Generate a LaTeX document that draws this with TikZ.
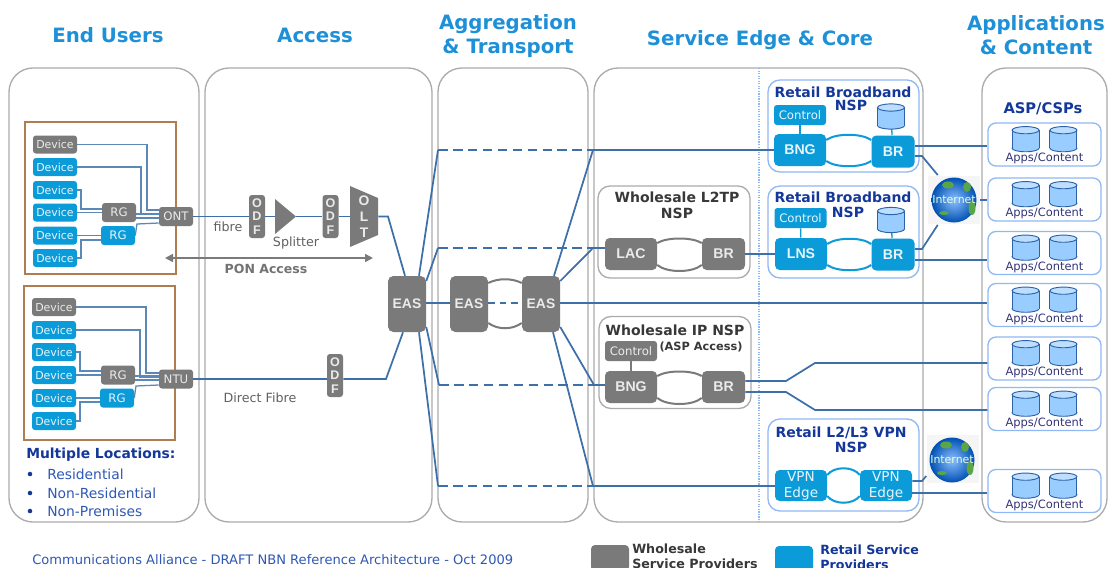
\documentclass[tikz,border=0pt]{standalone}
\usepackage{fontspec}
\setmainfont{DejaVu Sans}
\newfontfamily\arl{Liberation Sans}
\usetikzlibrary{arrows.meta,calc,backgrounds}
\pgfdeclarelayer{back}\pgfdeclarelayer{mid}\pgfsetlayers{back,mid,main}
\definecolor{gry}{HTML}{7A7A7A}
\definecolor{blu}{HTML}{0A9BD8}
\definecolor{ttl}{HTML}{1E90D8}
\definecolor{navy}{HTML}{14389A}
\definecolor{txtb}{HTML}{2F58B4}
\definecolor{fib}{HTML}{3D6FA8}
\definecolor{wir}{HTML}{5C88B8}
\definecolor{edge}{HTML}{ABABAB}
\definecolor{brn}{HTML}{B07D4E}
\definecolor{lbl}{HTML}{8FB8F5}
\definecolor{cylf}{HTML}{99CCFF}
\definecolor{cyle}{HTML}{2B62A8}
\definecolor{grn}{HTML}{5BA548}
\def\p{0.75pt}
\newcommand\fs[2]{\fontsize{#1}{#2}\selectfont}
% named database drum, centred at the given position
\newcommand\drum[2]{%
  \begin{scope}[shift={#2}]
  \node[inner sep=0,minimum width=27*\p,minimum height=25*\p] (#1) at (0,0) {};
  \fill[cylf,draw=cyle,line width=0.7pt] (0,9) ellipse (13.5 and 3.6);
  \fill[cylf] (-13.5,-9) rectangle (13.5,9);
  \draw[cyle,line width=0.7pt] (-13.5,-9) -- (-13.5,9) (13.5,-9) -- (13.5,9);
  \fill[cylf!65!white,draw=cyle,line width=0.7pt] (0,-9) ellipse (13.5 and 3.6);
  \end{scope}}
\tikzset{
  x=0.75pt,y=-0.75pt,
  panel/.style={draw=edge,line width=1pt,fill=white,rounded corners=18pt,inner sep=0},
  grp/.style={draw=edge,line width=1pt,fill=white,rounded corners=9pt,inner sep=0,minimum width=152*\p,minimum height=92*\p},
  rgrp/.style={draw=lbl,line width=1pt,fill=white,rounded corners=9pt,inner sep=0,minimum width=151*\p,minimum height=92*\p},
  site/.style={draw=brn,line width=1.3pt,fill=white,inner sep=0,minimum width=151*\p},
  gbox/.style={fill=gry,text=white!85!gry,rounded corners=2.2pt,inner sep=0},
  bbox/.style={fill=blu,text=white!90!blu,rounded corners=2.2pt,inner sep=0},
  dev/.style={minimum width=44*\p,minimum height=18*\p,font=\fs{8.2}{10}},
  rg/.style={minimum width=34*\p,minimum height=19*\p,font=\fs{8.8}{10}},
  odf/.style={gbox,minimum width=16*\p,minimum height=43*\p,font=\arl\bfseries\fs{9.4}{10},align=center},
  eas/.style={gbox,rounded corners=4pt,minimum width=38*\p,minimum height=56*\p,font=\arl\bfseries\fs{10.4}{12}},
  rt/.style={rounded corners=3.5pt,minimum width=52*\p,minimum height=32*\p,font=\arl\bfseries\fs{10.6}{12}},
  br/.style={rounded corners=3.5pt,minimum width=43*\p,minimum height=32*\p,font=\arl\bfseries\fs{10.6}{12}},
  ctl/.style={minimum width=52*\p,minimum height=20*\p,font=\fs{8.8}{10}},
  vpn/.style={bbox,rounded corners=3.5pt,minimum width=52*\p,minimum height=31*\p,font=\fs{10.2}{14},align=center},
  head/.style={text=ttl,font=\bfseries\fs{14.8}{18},align=center,inner sep=0},
  dark/.style={text=black!78,font=\bfseries\fs{10.5}{12},align=center,inner sep=0},
  rtitle/.style={text=navy,font=\bfseries\fs{10.5}{11.5},align=center,inner sep=0},
  plain/.style={text=black!62,font=\fs{9.5}{11},inner sep=0},
  loc/.style={text=txtb,font=\fs{10.4}{12},anchor=west,inner sep=0},
  dot/.style={circle,fill=navy,inner sep=0,minimum size=3.4pt},
  fibre/.style={draw=fib,line width=1.3pt},
  fibd/.style={fibre,dash pattern=on 7.2pt off 4pt},
  wire/.style={draw=wir,line width=0.95pt},
  ringg/.style={draw=gry,line width=1.5pt},
  ringb/.style={draw=blu,line width=1.5pt},
  apps/.style={draw=lbl,line width=1pt,fill=white,rounded corners=6pt,inner sep=0,minimum width=113*\p,minimum height=43*\p},
  appt/.style={text=black!55!blue!60!gray,font=\fs{8.6}{10},inner sep=0},
  gbg/.style={fill=black!4,inner sep=0,minimum width=52*\p,minimum height=48*\p},
  globe/.style={circle,inner color=cyan!45!blue!45!white,outer color=blue!55!cyan!70!black,inner sep=0,minimum size=45*\p},
  gtext/.style={text=white!90!green,font=\fs{8.2}{10},inner sep=0},
}
\begin{document}
\begin{tikzpicture}
\useasboundingbox (0,0) rectangle (1108,568);
\begin{pgfonlayer}{back}
\fill[white] (0,0) rectangle (1108,568);
\node[panel,minimum width=190*\p,minimum height=454*\p] (pUsers) at (104,295) {};
\node[panel,minimum width=227*\p,minimum height=454*\p] (pAccess) at (318.5,295) {};
\node[panel,minimum width=150*\p,minimum height=454*\p] (pAgg) at (513,295) {};
\node[panel,minimum width=329*\p,minimum height=454*\p] (pCore) at (758.5,295) {};
\node[panel,minimum width=125*\p,minimum height=454*\p] (pApps) at (1044.5,295) {};
\coordinate (dtop) at (759,68); \coordinate (dbot) at (759,522);
\draw[draw=lbl,line width=0.9pt,densely dotted] (dtop) -- (dbot);
\node[site,minimum height=152*\p] (s1) at (100.5,198) {};
\node[site,minimum height=154*\p] (s2) at (99.5,363) {};
\node[grp] (wL2) at (674,232) {};
\node[grp] (wIP) at (675,362.5) {};
\node[rgrp] (r1) at (843.5,126) {};
\node[rgrp] (r2) at (843.5,232) {};
\node[rgrp] (r3) at (843.5,465) {};
\end{pgfonlayer}

% headings
\node[head] (hUsers) at (108,35) {End Users};
\node[head] (hAccess) at (315,35) {Access};
\node[head] (hAgg) at (508,36) {Aggregation\\\& Transport};
\node[head] (hCore) at (760,40.5) {Service Edge \& Core};
\node[head] (hApps) at (1036,35.5) {Applications\\\& Content};

% first site
\node[gbox,dev] (d1) at (55,144.5) {Device};
\node[bbox,dev] (d2) at (55,167) {Device};
\node[bbox,dev] (d3) at (55,190) {Device};
\node[bbox,dev] (d4) at (55,212.5) {Device};
\node[bbox,dev] (d5) at (55,235.5) {Device};
\node[bbox,dev] (d6) at (55,258) {Device};
\node[gbox,rg] (rg1) at (119,212.5) {RG};
\node[bbox,rg] (rg2) at (118,235.5) {RG};
\node[gbox,rg,minimum width=34*\p] (ont) at (176,216.5) {ONT};
% second site
\node[gbox,dev] (e1) at (54,307) {Device};
\node[bbox,dev] (e2) at (54,330) {Device};
\node[bbox,dev] (e3) at (54,352) {Device};
\node[bbox,dev] (e4) at (54,375) {Device};
\node[bbox,dev] (e5) at (54,398) {Device};
\node[bbox,dev] (e6) at (54,421) {Device};
\node[gbox,rg] (rg3) at (118,375) {RG};
\node[bbox,rg] (rg4) at (117,398) {RG};
\node[gbox,rg] (ntu) at (176,379) {NTU};

% access
\node[odf] (odf1) at (257,216.5) {O\\D\\F};
\fill[gry] (275,199) -- (296,216.5) -- (275,234) -- cycle;
\node[inner sep=0,minimum width=21*\p,minimum height=35*\p] (split) at (285.5,216.5) {};
\node[odf] (odf2) at (330.5,216.5) {O\\D\\F};
\fill[gry] (350,186) -- (378,198) -- (378,235) -- (350,247) -- cycle;
\node[inner sep=0,minimum width=28*\p,minimum height=61*\p,text=white!85!gry,font=\arl\bfseries\fs{10.4}{11.8},align=center] (olt) at (364,216.5) {O\\L\\T};
\node[odf] (odf3) at (335,375.5) {O\\D\\F};
\node[plain] (lFibre) at (228,227) {fibre};
\node[plain] (lSplit) at (296,243) {Splitter};
\node[text=black!55,font=\bfseries\fs{9.4}{11},inner sep=0] (lPon) at (266,269) {PON Access};
\node[plain] (lDirect) at (260,398) {Direct Fibre};
\coordinate (ponL) at (165,258); \coordinate (ponR) at (373,258);
\draw[draw=gry,line width=1.2pt,{Triangle[length=6pt,width=6pt]}-{Triangle[length=6pt,width=6pt]}] (ponL) -- (ponR);

% locations
\node[text=navy,font=\bfseries\fs{10.4}{12},anchor=west,inner sep=0] (lMulti) at (26,455) {Multiple Locations:};
\node[dot] (b1) at (30,474) {}; \node[loc] (t1) at (47,474) {Residential};
\node[dot] (b2) at (30,493) {}; \node[loc] (t2) at (47,493) {Non-Residential};
\node[dot] (b3) at (30,511) {}; \node[loc] (t3) at (47,511) {Non-Premises};

% EAS
\node[eas] (eas1) at (407,304) {EAS};
\node[eas] (eas2) at (469,304) {EAS};
\node[eas] (eas3) at (541,304) {EAS};

% wholesale
\node[dark] (tL2) at (677,205) {Wholesale L2TP\\NSP};
\node[gbox,rt] (lac) at (631,254) {LAC};
\node[gbox,br] (brL) at (723.5,254) {BR};
\node[dark] (tIP) at (675,330) {Wholesale IP NSP};
\node[text=black!78,font=\bfseries\fs{8.5}{10},inner sep=0] (tASP) at (701,347) {(ASP Access)};
\node[gbox,ctl] (ctlW) at (631,351) {Control};
\node[gbox,rt] (bngW) at (631,387) {BNG};
\node[gbox,br] (brW) at (723.5,387) {BR};

% retail
\node[rtitle,font=\bfseries\fs{10.5}{9.8}] (tR1) at (843,98.5) {Retail Broadband\\\kern12pt NSP};
\node[bbox,ctl] (ctl1) at (800,115) {Control};
\node[bbox,rt] (bng1) at (800,150) {BNG};
\node[bbox,br] (br1) at (893,151.5) {BR};
\drum{cy1}{(891,116.5)}
\node[rtitle] (tR2) at (843,205) {Retail Broadband\\\kern7.5pt NSP};
\node[bbox,ctl] (ctl2) at (800.5,218) {Control};
\node[bbox,rt] (lns) at (801,254) {LNS};
\node[bbox,br] (br2) at (893,254.5) {BR};
\drum{cy2}{(891,220)}
\node[rtitle] (tR3) at (841,440) {Retail L2/L3 VPN\\\kern15pt NSP};
\node[vpn] (vpn1) at (801,485.5) {VPN\\[-2pt]Edge};
\node[vpn] (vpn2) at (886,485.5) {VPN\\[-2pt]Edge};

% internet
\node[gbg] (inetA) at (954,200) {};
\node[globe] (g1) at (954,200) {};
\fill[grn] (948,185) ellipse (6 and 3.5) (967,187) ellipse (4 and 5) (972,208) ellipse (3.5 and 7) (944,213) ellipse (5 and 2);
\node[gtext] (gt1) at (954,200) {Internet};
\node[gbg] (inetB) at (952.5,459) {};
\node[globe] (g2) at (952,460) {};
\fill[grn] (946,445) ellipse (6 and 3.5) (965,447) ellipse (4 and 5) (970,468) ellipse (3.5 and 7) (942,473) ellipse (5 and 2);
\node[gtext] (gt2) at (952,460) {Internet};

% applications
\node[text=navy,font=\bfseries\fs{11}{13},inner sep=0] (tAsp) at (1043,108.5) {ASP/CSPs};
\foreach \n/\yc in {1/144.5,2/199.5,3/253,4/305,5/358.5,6/409,7/491}{
  \begin{pgfonlayer}{back}
  \node[apps] (a\n) at (1044.5,\yc) {};
  \end{pgfonlayer}
  \drum{a\n l}{([xshift=-14.2pt,yshift=4pt]a\n.center)}
  \drum{a\n r}{([xshift=14.2pt,yshift=4pt]a\n.center)}
  \node[appt] (a\n t) at ([yshift=6pt]a\n.south) {Apps/Content};
}

% footer and legend
\node[text=txtb,font=\fs{9.8}{12},anchor=west,inner sep=0] (foot) at (32,560) {Communications Alliance - DRAFT NBN Reference Architecture - Oct 2009};
\node[gbox,rounded corners=3pt,minimum width=38*\p,minimum height=26*\p] (legG) at (610,558) {};
\node[text=black!78,font=\bfseries\fs{9.5}{11.2},align=left,anchor=north west,inner sep=0] (legGt) at (632,544) {Wholesale\\Service Providers};
\node[bbox,rounded corners=3pt,minimum width=38*\p,minimum height=26*\p] (legB) at (794,559) {};
\node[text=navy,font=\bfseries\fs{9.5}{11.2},align=left,anchor=north west,inner sep=0] (legBt) at (820,545) {Retail Service\\Providers};

% connectors
\begin{pgfonlayer}{mid}
\coordinate (c1a) at (438,150); \coordinate (c1b) at (593,150);
\coordinate (c2a) at (438,248); \coordinate (c2b) at (593,248);
\coordinate (c3a) at (439,385); \coordinate (c3b) at (594,385);
\coordinate (c4a) at (438,486); \coordinate (c4b) at (593,486);
% site 1 wiring
\draw[wire] (d1.east) -- (147,144.5) -- (147,210) -- (ont.west |- 0,210);
\draw[wire] (d2.east) -- (141,167) -- (141,214) -- (ont.west |- 0,214);
\draw[wire] (d3.east) -- (81,190) -- (81,209) -- (rg1.west |- 0,209);
\draw[wire] (d4.east) -- (rg1.west);
\draw[wire] (rg1.east |- 0,214) -- (ont.west |- 0,214);
\draw[wire] (rg1.east |- 0,218) -- (ont.west |- 0,218);
\draw[wire] (d5.east) -- (rg2.west);
\draw[wire] (d6.east) -- (81,258) -- (81,240) -- (rg2.west |- 0,240);
\draw[wire] (rg2.east) -- (137,224) -- (ont.west |- 0,223);
% site 2 wiring
\draw[wire] (e1.east) -- (146,307) -- (146,373) -- (ntu.west |- 0,373);
\draw[wire] (e2.east) -- (140,330) -- (140,377) -- (ntu.west |- 0,377);
\draw[wire] (e3.east) -- (80,352) -- (80,371) -- (rg3.west |- 0,371);
\draw[wire] (e4.east) -- (rg3.west);
\draw[wire] (rg3.east |- 0,376) -- (ntu.west |- 0,376);
\draw[wire] (rg3.east |- 0,380) -- (ntu.west |- 0,380);
\draw[wire] (e5.east) -- (rg4.west);
\draw[wire] (e6.east) -- (80,421) -- (80,402) -- (rg4.west |- 0,402);
\draw[wire] (rg4.east) -- (136,386) -- (ntu.west |- 0,385);
% access fibres
\draw[fibre] (ont.east) -- (odf1.west);
\draw[fibre] (odf1.east) -- (split.west);
\draw[fibre] (split.east) -- (odf2.west);
\draw[fibre] (odf2.east) -- (olt.west);
\draw[fibre] (olt.east) -- (388,216.5) -- (eas1.north -| 405,0);
\draw[fibre] (ntu.east) -- (odf3.west |- ntu.east);
\draw[fibre] (odf3.east |- ntu.east) -- (386,379) -- (eas1.south -| 403,0);
% EAS to NSPs
\draw[fibre] (eas1.north -| 419,0) -- (c1a);
\draw[fibd] (c1a) -- (c1b);
\draw[fibre] (eas3.north -| 554,0) -- (c1b);
\draw[fibre] (c1b) -- (bng1.west);
\draw[fibre] (eas1.east |- 0,281) -- (c2a);
\draw[fibd] (c2a) -- (c2b);
\draw[fibre] (eas3.east |- 0,281) -- (c2b);
\draw[fibre] (c2b) -- (lac.west |- c2b);
\draw[fibre] (eas1.east |- 0,303) -- (eas2.west |- 0,303);
\draw[fibre,dash pattern=on 5pt off 3.5pt] (eas2.east |- 0,303) -- (eas3.west |- 0,303);
\draw[fibre] (eas3.east |- 0,303) -- (a4.west |- 0,303);
\draw[fibre] (eas1.east |- 0,327) -- (c3a);
\draw[fibd] (c3a) -- (c3b);
\draw[fibre] (eas3.east |- 0,327) -- (c3b);
\draw[fibre] (c3b) -- (bngW.west |- c3b);
\draw[fibre] (eas1.south -| 419,0) -- (c4a);
\draw[fibd] (c4a) -- (c4b);
\draw[fibre] (eas3.south -| 553,0) -- (c4b);
\draw[fibre] (c4b) -- (vpn1.west |- c4b);
\draw[fibre] (brL.east) -- (lns.west);
% to applications
\draw[fibre] (br1.east |- 0,146) -- (a1.west |- 0,146);
\draw[fibre] (br1.east |- 0,156) -- (922,156) -- ([xshift=7.5pt,yshift=0.5pt]inetA.north west);
\draw[fibre] (br2.east |- 0,249) -- (922,249) -- ([xshift=7.5pt,yshift=-0.5pt]inetA.south west);
\draw[fibre] (br2.east |- 0,260) -- (a3.west |- 0,260);
\draw[fibre] (g1.east) -- (a2.west |- g1.east);
\draw[fibre] (brW.east |- 0,381) -- (786,381) -- (815,363) -- (a5.west |- 0,363);
\draw[fibre] (brW.east |- 0,392) -- (786,392) -- (815,410) -- (a6.west |- 0,410);
\draw[fibre] (vpn2.east |- 0,481) -- (922,481) -- (inetB.west |- 0,476);
\draw[fibre] (vpn2.east |- 0,493) -- (a7.west |- 0,493);
% rings and stubs
\draw[ringg] (eas2.east |- 0,283) .. controls (498,278) and (512,278) .. (eas3.west |- 0,283);
\draw[ringg] (eas2.east |- 0,323) .. controls (498,330) and (512,330) .. (eas3.west |- 0,323);
\draw[ringg] (lac.east |- 0,243) .. controls (667,237) and (692,237) .. (brL.west |- 0,243);
\draw[ringg] (lac.east |- 0,265) .. controls (667,273) and (692,273) .. (brL.west |- 0,265);
\draw[ringg] (bngW.east |- 0,376) .. controls (667,370) and (692,370) .. (brW.west |- 0,376);
\draw[ringg] (bngW.east |- 0,398) .. controls (667,406) and (692,406) .. (brW.west |- 0,398);
\draw[ringb] (bng1.east |- 0,140) .. controls (836,133) and (861,133) .. (br1.west |- 0,140);
\draw[ringb] (bng1.east |- 0,161) .. controls (836,168) and (861,168) .. (br1.west |- 0,161);
\draw[ringb] (lns.east |- 0,244) .. controls (837,237) and (862,237) .. (br2.west |- 0,244);
\draw[ringb] (lns.east |- 0,265) .. controls (837,272) and (862,272) .. (br2.west |- 0,265);
\draw[ringb] (vpn1.east |- 0,475) .. controls (834,466) and (853,466) .. (vpn2.west |- 0,475);
\draw[ringb] (vpn1.east |- 0,496) .. controls (834,505) and (853,505) .. (vpn2.west |- 0,496);
\draw[draw=gry,line width=1pt] (ctlW) -- (bngW);
\draw[draw=blu,line width=1pt] (ctl1) -- (bng1);
\draw[draw=blu,line width=1pt] (ctl2) -- (lns);
\draw[draw=blu,line width=1pt] (cy1) -- (br1);
\draw[draw=blu,line width=1pt] (cy2) -- (br2);
\end{pgfonlayer}
\end{tikzpicture}
\end{document}
